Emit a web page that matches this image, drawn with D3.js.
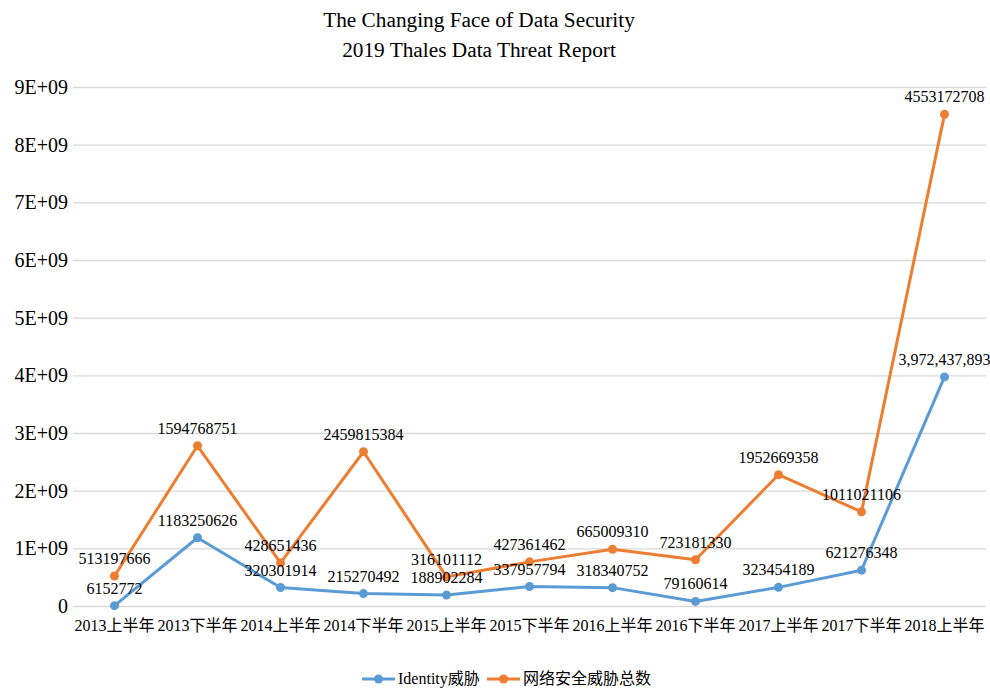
<!DOCTYPE html>
<html><head><meta charset="utf-8">
<script src="https://cdn.jsdelivr.net/npm/d3@7"></script>
<style>body{margin:0;background:#fff}</style>
</head><body>
<svg id="c" width="990" height="688"></svg>
<script>
const categories = ["2013上半年","2013下半年","2014上半年","2014下半年","2015上半年","2015下半年","2016上半年","2016下半年","2017上半年","2017下半年","2018上半年"];
const identity = [6152772,1183250626,320301914,215270492,188902284,337957794,318340752,79160614,323454189,621276348,3972437893];
const total = [513197666,1594768751,428651436,2459815384,316101112,427361462,665009310,723181330,1952669358,1011021106,4553172708];
const yTicks = [0,1e9,2e9,3e9,4e9,5e9,6e9,7e9,8e9,9e9];
const seriesNames = ["Identity威胁","网络安全威胁总数"];
const colors = ["#5B9BD5","#ED7D31"];

(function(){
const serif = "'Liberation Serif','Times New Roman',serif";
const cjk = "'Liberation Serif','Noto Sans CJK SC',serif";
const svg = d3.select("#c");
const pLeft = 73, pRight = 986, pTop = 87, pBottom = 606;
const x = d3.scaleBand().domain(categories).range([pLeft, pRight]);
const y = d3.scaleLinear().domain([0, 9e9]).range([pBottom, pTop]);

// stacked values
const stacked = [identity.map(v => v), identity.map((v, i) => v + total[i])];
const raw = [identity, total];

// title
svg.append("text").attr("x", 479).attr("y", 27).attr("text-anchor", "middle")
  .style("font-family", serif).style("font-size", "21.3px").attr("fill", "#000")
  .text("The Changing Face of Data Security");
svg.append("text").attr("x", 479).attr("y", 57).attr("text-anchor", "middle")
  .style("font-family", serif).style("font-size", "21.3px").attr("fill", "#000")
  .text("2019 Thales Data Threat Report");

// grid + y axis
const yAxis = d3.axisLeft(y).tickValues(yTicks).tickSize(-(pRight - pLeft)).tickPadding(5)
  .tickFormat(v => v === 0 ? "0" : (v / 1e9) + "E+09");
const gy = svg.append("g").attr("transform", `translate(${pLeft},0)`).call(yAxis);
gy.select(".domain").remove();
gy.selectAll(".tick line").attr("stroke", "#d9d9d9").attr("stroke-width", 1.3);
gy.selectAll(".tick text").style("font-family", serif).style("font-size", "20px").attr("fill", "#000");

// x axis labels
const xAxis = d3.axisBottom(x).tickSize(0).tickPadding(14);
const gx = svg.append("g").attr("transform", `translate(0,${pBottom})`).call(xAxis);
gx.select(".domain").remove();
gx.selectAll(".tick text").style("font-family", cjk).style("font-size", "16px").attr("fill", "#000");

const cx = c => x(c) + x.bandwidth() / 2;
const line = d3.line().x((d, i) => cx(categories[i])).y(d => y(d));

stacked.forEach((vals, s) => {
  svg.append("path").datum(vals).attr("d", line).attr("fill", "none")
    .attr("stroke", colors[s]).attr("stroke-width", 3).attr("stroke-linejoin", "round");
  svg.selectAll(null).data(vals).enter().append("circle")
    .attr("cx", (d, i) => cx(categories[i])).attr("cy", d => y(d)).attr("r", 4.5)
    .attr("fill", colors[s]);
});
stacked.forEach((vals, s) => {
  svg.selectAll(null).data(vals).enter().append("text")
    .attr("x", (d, i) => cx(categories[i])).attr("y", d => y(d) - 12)
    .attr("text-anchor", "middle").style("font-family", serif).style("font-size", "16px").attr("fill", "#000")
    .text((d, i) => (s === 0 && i === categories.length - 1) ? d3.format(",")(raw[s][i]) : String(raw[s][i]));
});

// legend
const legendItems = [{x: 362, tx: 396}, {x: 487, tx: 521}];
legendItems.forEach((p, s) => {
  const ly = 679;
  svg.append("line").attr("x1", p.x).attr("x2", p.x + 33).attr("y1", ly).attr("y2", ly)
    .attr("stroke", colors[s]).attr("stroke-width", 3);
  svg.append("circle").attr("cx", p.x + 16.5).attr("cy", ly).attr("r", 4.5).attr("fill", colors[s]);
  svg.append("text").attr("x", p.tx + 2).attr("y", ly + 5).style("font-family", cjk).style("font-size", "16px")
    .attr("fill", "#000").text(seriesNames[s]);
});
})();
</script>
</body></html>
